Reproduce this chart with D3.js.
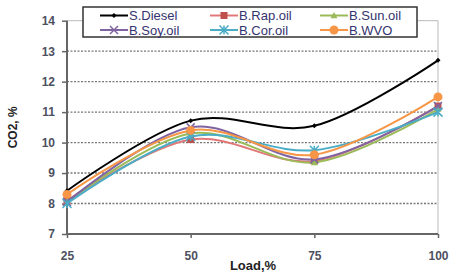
<!DOCTYPE html>
<html>
<head>
<meta charset="utf-8">
<script src="https://cdn.jsdelivr.net/npm/d3@7"></script>
<style>
  body { margin: 0; background: #fff; }
  text { font-family: "Liberation Sans", Arial, sans-serif; }
</style>
</head>
<body>
<svg id="chart" width="449" height="275"></svg>
<script>
// data
var loads = [25, 50, 75, 100];
var yTicks = [7, 8, 9, 10, 11, 12, 13, 14];
var seriesNames = ["S.Diesel", "B.Rap.oil", "B.Sun.oil", "B.Soy.oil", "B.Cor.oil", "B.WVO"];
var diesel = [8.42, 10.72, 10.55, 12.7];
var rapOil = [8.1, 10.1, 9.4, 11.2];
var sunOil = [8.05, 10.3, 9.35, 11.1];
var soyOil = [8.05, 10.5, 9.45, 11.2];
var corOil = [8.0, 10.2, 9.75, 11.0];
var wvo = [8.3, 10.4, 9.6, 11.5];

var config = {
    left: 67, right: 438, top: 20.7, bottom: 234
}

var styles = [
    { line: "#000000", fill: "#000000", marker: "diamond", size: 5 },
    { line: "#E07878", fill: "#C0504D", marker: "square", size: 7 },
    { line: "#9BBB59", fill: "#9BBB59", marker: "triangle", size: 7 },
    { line: "#8064A2", fill: "#8064A2", marker: "cross", size: 8 },
    { line: "#4BACC6", fill: "#4BACC6", marker: "star", size: 9 },
    { line: "#F79646", fill: "#F79646", marker: "circle", size: 9 }
];

var allValues = [diesel, rapOil, sunOil, soyOil, corOil, wvo];

var svg = d3.select('#chart');

var x = d3.scaleLinear().domain([25, 100]).range([config.left, config.right]);
var y = d3.scaleLinear().domain([7, 14]).range([config.bottom, config.top]);

// plot frame (light top / right)
svg.append('line')
    .attr('x1', config.left).attr('x2', config.right)
    .attr('y1', config.top).attr('y2', config.top)
    .attr('stroke', '#bbb').attr('stroke-width', 1);
svg.append('line')
    .attr('x1', config.right).attr('x2', config.right)
    .attr('y1', config.top).attr('y2', config.bottom)
    .attr('stroke', '#bbb').attr('stroke-width', 1);

// grid lines
svg.append('g')
    .selectAll('line')
    .data(yTicks.filter(function(d){ return d > 7 && d < 14 }))
    .join('line')
    .attr('x1', config.left).attr('x2', config.right)
    .attr('y1', function(d){ return y(d) }).attr('y2', function(d){ return y(d) })
    .attr('stroke', '#777')
    .attr('stroke-width', 1.4)
    .attr('stroke-dasharray', '2,1.5');

// axes
var yAxis = d3.axisLeft(y).tickValues(yTicks).tickSize(5).tickPadding(7).tickFormat(d3.format('d'));
var xAxis = d3.axisBottom(x).tickValues(loads).tickSize(4).tickPadding(13).tickFormat(d3.format('d'));

var gy = svg.append('g')
    .attr('transform', 'translate(' + config.left + ',0)')
    .call(yAxis);
var gx = svg.append('g')
    .attr('transform', 'translate(0,' + config.bottom + ')')
    .call(xAxis);

[gx, gy].forEach(function(g){
    g.select('.domain').attr('stroke', '#666').attr('stroke-width', 2);
    g.selectAll('.tick line').attr('stroke', '#666').attr('stroke-width', 1.5);
    g.selectAll('.tick text')
        .attr('fill', '#4d5060')
        .style('font-size', '12px')
        .style('font-weight', 'bold');
});
gx.select('.domain').attr('d', 'M' + config.left + ',0H' + config.right);
gy.select('.domain').attr('d', 'M0,' + config.top + 'V' + config.bottom);

// axis titles
svg.append('text')
    .attr('transform', 'translate(17,' + ((config.top + config.bottom) / 2) + ') rotate(-90)')
    .attr('text-anchor', 'middle')
    .style('font-size', '12px')
    .style('font-weight', 'bold')
    .attr('fill', '#222')
    .text('CO2, %');
svg.append('text')
    .attr('x', 253).attr('y', 270)
    .attr('text-anchor', 'middle')
    .style('font-size', '13px')
    .style('font-weight', 'bold')
    .attr('fill', '#222')
    .text('Load,%');

function markerPath(type, size){
    var s = size / 2;
    if (type == 'diamond') return 'M0,' + (-s) + 'L' + s + ',0L0,' + s + 'L' + (-s) + ',0Z';
    if (type == 'square') return 'M' + (-s) + ',' + (-s) + 'h' + size + 'v' + size + 'h' + (-size) + 'Z';
    if (type == 'triangle') return 'M0,' + (-s) + 'L' + s + ',' + (s * 0.8) + 'L' + (-s) + ',' + (s * 0.8) + 'Z';
    if (type == 'cross') return 'M' + (-s) + ',' + (-s) + 'L' + s + ',' + s + 'M' + s + ',' + (-s) + 'L' + (-s) + ',' + s;
    if (type == 'star') return 'M' + (-s) + ',' + (-s) + 'L' + s + ',' + s + 'M' + s + ',' + (-s) + 'L' + (-s) + ',' + s + 'M0,' + (-s) + 'V' + s;
    return d3.symbol().type(d3.symbolCircle).size(size * size * 0.78)();
}

function drawMarker(g, st, cx, cy){
    var p = g.append('path')
        .attr('transform', 'translate(' + cx + ',' + cy + ')')
        .attr('d', markerPath(st.marker, st.size));
    if (st.marker == 'cross' || st.marker == 'star'){
        p.attr('fill', 'none').attr('stroke', st.fill).attr('stroke-width', 1.5);
    } else {
        p.attr('fill', st.fill).attr('stroke', 'none');
    }
}

var line = d3.line()
    .curve(d3.curveCatmullRom.alpha(0))
    .x(function(d, i){ return x(loads[i]) })
    .y(function(d){ return y(d) });

var series = svg.append('g');
allValues.forEach(function(vals, k){
    var st = styles[k];
    var g = series.append('g');
    g.append('path')
        .datum(vals)
        .attr('d', line)
        .attr('fill', 'none')
        .attr('stroke', st.line)
        .attr('stroke-width', 2);
    vals.forEach(function(v, i){
        drawMarker(g, st, x(loads[i]), y(v));
    });
});

// legend
var legend = svg.append('g');
legend.append('rect')
    .attr('x', 83).attr('y', 7)
    .attr('width', 334).attr('height', 30)
    .attr('fill', '#fff')
    .attr('stroke', '#333')
    .attr('stroke-width', 1.5);

var colX = [100, 210, 320];
var rowY = [15.5, 30];
seriesNames.forEach(function(name, k){
    var st = styles[k];
    var lx = colX[k % 3];
    var ly = rowY[Math.floor(k / 3)];
    legend.append('line')
        .attr('x1', lx).attr('x2', lx + 28)
        .attr('y1', ly).attr('y2', ly)
        .attr('stroke', st.line).attr('stroke-width', 2);
    drawMarker(legend, st, lx + 14, ly);
    legend.append('text')
        .attr('x', lx + 29).attr('y', ly + 4.5)
        .attr('fill', '#34346e')
        .style('font-size', '13px')
        .text(name);
});
</script>
</body>
</html>
